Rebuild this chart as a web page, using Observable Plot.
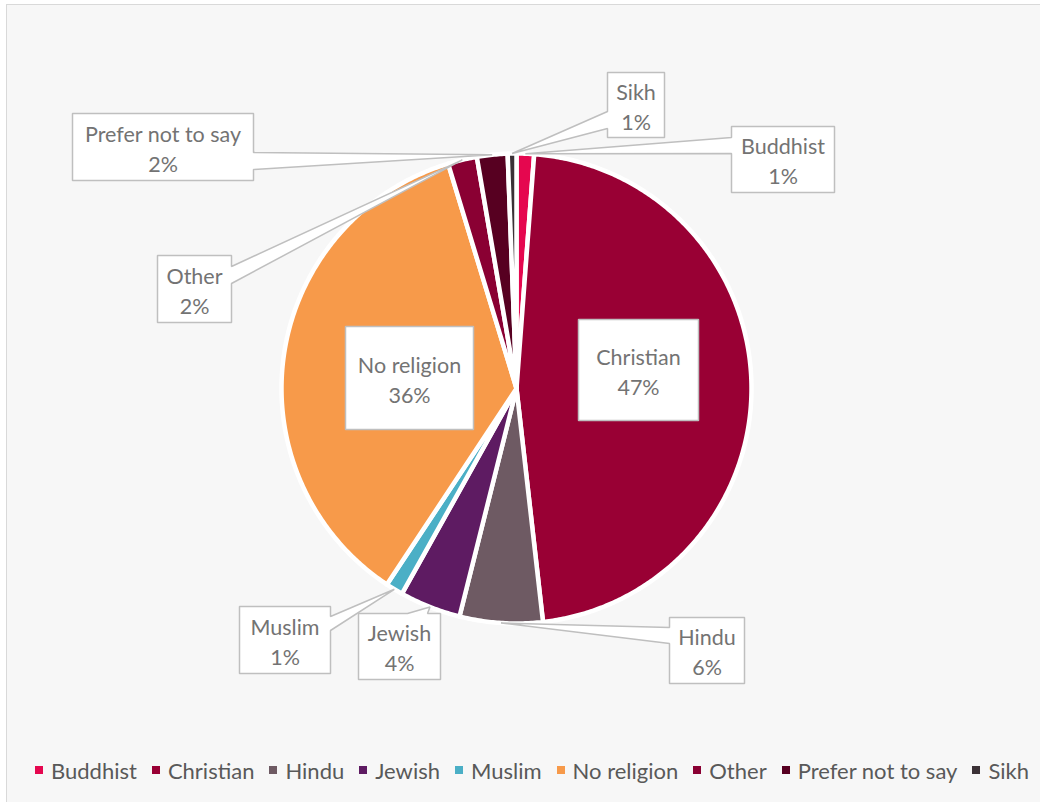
<!DOCTYPE html>
<html>
<head>
<meta charset="utf-8">
<script src="https://cdn.jsdelivr.net/npm/d3@7"></script>
<script src="https://cdn.jsdelivr.net/npm/@observablehq/plot@0.6"></script>
<style>
  html, body { margin: 0; padding: 0; background: #ffffff; overflow: hidden; }
  #frame { position: absolute; left: 6px; top: 4px; width: 1100px; height: 900px;
           border: 1px solid #d9d9d9; background: #f7f7f7; }
  #chart { position: absolute; left: 0; top: 0; width: 1040px; }
  #legend { width: 1064px; height: 50px; display: flex; justify-content: center; align-items: center;
            font-family: Lato, "Open Sans", sans-serif; font-size: 22px; color: #595959; }
  .item { display: flex; align-items: center; margin-right: 15px; }
  .item:last-child { margin-right: 0; }
  .sw { width: 8px; height: 8px; margin-right: 8px; }
</style>
</head>
<body>
<div id="frame"></div>
<div id="chart"></div>
<script>
// ---- data ----
const categories = ["Buddhist", "Christian", "Hindu", "Jewish", "Muslim", "No religion", "Other", "Prefer not to say", "Sikh"];
const shares = [1.2, 47.0, 5.7, 4.2, 1.2, 36.0, 2.0, 2.1, 0.6];
const colors = ["#e5074f", "#990034", "#6e5a63", "#5e1b62", "#4bafc6", "#f79a4a", "#8a0033", "#570021", "#3b3136"];

// ---- layout (pixels) ----
const W = 1040, H = 745;
const cx = 516, cy = 388, R = 235;
const callouts = [
  {name: "Buddhist", box: [731, 126, 834, 192], side: "left", base: [137, 153]},
  {name: "Christian", box: [578, 319, 698, 420], side: "none"},
  {name: "Hindu", box: [669, 617, 744, 683], side: "left", base: [627, 643]},
  {name: "Jewish", box: [358, 613, 440, 679], side: "top", base: [407, 427]},
  {name: "Muslim", box: [239, 606, 330, 673], side: "right", base: [616, 630]},
  {name: "No religion", box: [345, 326, 473, 429], side: "none"},
  {name: "Other", box: [157, 255, 231, 322], side: "right", base: [266, 283]},
  {name: "Prefer not to say", box: [72, 113, 253, 180], side: "right", base: [152, 169]},
  {name: "Sikh", box: [607, 72, 664, 137], side: "left", base: [111, 128]}
];

const ux = px => (px - cx) / R;
const uy = py => (cy - py) / R;

const rows = categories.map((name, i) => ({name, value: shares[i], label: Math.round(shares[i]) + "%"}));
const arcs = d3.pie().sort(null).value(d => d.value).startAngle(0).endAngle(2 * Math.PI)(rows);

// slice polygons in unit-circle coordinates
const slicePts = [];
arcs.forEach(a => {
  const name = a.data.name;
  slicePts.push({name, x: 0, y: 0});
  const n = Math.max(2, Math.ceil((a.endAngle - a.startAngle) / (Math.PI / 360)));
  for (let k = 0; k <= n; k++) {
    const t = a.startAngle + (a.endAngle - a.startAngle) * k / n;
    slicePts.push({name, x: Math.sin(t), y: Math.cos(t)});
  }
});

// callout polygons
const calloutPts = [];
const textRows = [];
callouts.forEach(c => {
  const a = arcs.find(d => d.data.name === c.name);
  const mid = (a.startAngle + a.endAngle) / 2;
  const tip = [Math.sin(mid) * 1.0, Math.cos(mid) * 1.0];
  const [x0, y0, x1, y1] = c.box.map((v, i) => i % 2 === 0 ? ux(v) : uy(v));
  let pts;
  if (c.side === "left") {
    const b0 = uy(c.base[0]), b1 = uy(c.base[1]);
    pts = [[x0, y0], [x1, y0], [x1, y1], [x0, y1], [x0, b1], tip, [x0, b0]];
  } else if (c.side === "right") {
    const b0 = uy(c.base[0]), b1 = uy(c.base[1]);
    pts = [[x0, y0], [x1, y0], [x1, b0], tip, [x1, b1], [x1, y1], [x0, y1]];
  } else if (c.side === "top") {
    const b0 = ux(c.base[0]), b1 = ux(c.base[1]);
    pts = [[x0, y0], [b0, y0], tip, [b1, y0], [x1, y0], [x1, y1], [x0, y1]];
  } else {
    pts = [[x0, y0], [x1, y0], [x1, y1], [x0, y1]];
  }
  pts.forEach(p => calloutPts.push({id: c.name, x: p[0], y: p[1]}));
  textRows.push({x: (x0 + x1) / 2, y: (y0 + y1) / 2, text: c.name + "\n" + a.data.label});
});

const plot = Plot.plot({
  width: W,
  height: H,
  margin: 0,
  style: {background: "transparent", overflow: "visible"},
  x: {domain: [-1, 1], range: [cx - R, cx + R], axis: null},
  y: {domain: [-1, 1], range: [cy + R, cy - R], axis: null},
  color: {domain: categories, range: colors},
  marks: [
    Plot.line(slicePts, {x: "x", y: "y", z: "name", fill: "name", stroke: "#ffffff",
      strokeWidth: 4.5, strokeLinejoin: "round", curve: "linear-closed"}),
    Plot.line(calloutPts, {x: "x", y: "y", z: "id", fill: "#ffffff", stroke: "#bfbfbf",
      strokeWidth: 1.5, strokeLinejoin: "miter", curve: "linear-closed"}),
    Plot.text(textRows, {x: "x", y: "y", text: "text", fill: "#737373", fontSize: 21.5,
      fontFamily: "Lato, 'Open Sans', sans-serif", lineHeight: 1.4, textAnchor: "middle", lineAnchor: "middle"})
  ]
});

const chart = document.getElementById("chart");
chart.appendChild(plot);

const legend = document.createElement("div");
legend.id = "legend";
categories.forEach((c, i) => {
  const it = document.createElement("div");
  it.className = "item";
  const sw = document.createElement("div");
  sw.className = "sw";
  sw.style.background = colors[i];
  const tx = document.createElement("span");
  tx.textContent = c;
  it.appendChild(sw);
  it.appendChild(tx);
  legend.appendChild(it);
});
chart.appendChild(legend);
</script>
</body>
</html>
